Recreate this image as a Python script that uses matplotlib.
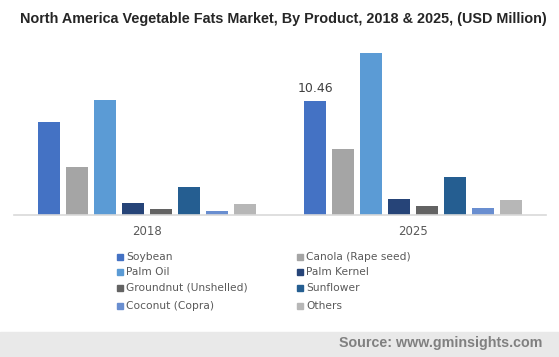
import matplotlib.pyplot as plt
from matplotlib.patches import Rectangle
import numpy as np

years = ["2018", "2025"]
products = ["Soybean", "Canola (Rape seed)", "Palm Oil", "Palm Kernel",
            "Groundnut (Unshelled)", "Sunflower", "Coconut (Copra)", "Others"]
values_2018 = [8.54, 4.41, 10.56, 1.10, 0.55, 2.57, 0.37, 1.01]
values_2025 = [10.46, 6.06, 14.86, 1.47, 0.83, 3.49, 0.64, 1.38]
colors = ["#4472C4", "#A5A5A5", "#5B9BD5", "#264478",
          "#636363", "#255E91", "#698ED0", "#B7B7B7"]

W, H = 559, 357
fig = plt.figure(figsize=(W / 100, H / 100), dpi=100)
ax = fig.add_axes([14 / W, (H - 215) / H, 532 / W, 175 / H])

x = np.arange(len(years))
step = 28 / 266
width = 22 / 266
for i, name in enumerate(products):
    offs = (i - 3.5) * step
    ax.bar(x + offs, [values_2018[i], values_2025[i]], width=width,
           color=colors[i], label=name)

# label only the 2025 soybean bar, as in the original
ax.text(x[1] - 3.5 * step, values_2025[0] + 0.55, f"{values_2025[0]:.2f}",
        ha="center", va="bottom", fontsize=9, color="#404040")

ax.set_xlim(-0.5, 1.5)
ax.set_ylim(0, 16.06)
ax.set_xticks(x)
ax.set_xticklabels(years, fontsize=8.5, color="#595959")
ax.tick_params(axis="x", length=0, pad=7)
ax.set_yticks([])
for s in ["top", "right", "left"]:
    ax.spines[s].set_visible(False)
ax.spines["bottom"].set_color("#d9d9d9")
ax.spines["bottom"].set_linewidth(1.2)

fig.text(283 / W, 1 - 19 / H, "North America Vegetable Fats Market, By Product, 2018 & 2025, (USD Million)",
         ha="center", va="center", fontsize=10.35, fontweight="bold",
         family="Liberation Sans", color="#262626")

# legend, two columns
col_x = [117, 297]
row_y = [257, 272, 288, 306]
for i, name in enumerate(products):
    cx = col_x[i % 2]
    cy = row_y[i // 2]
    fig.patches.append(Rectangle((cx / W, (H - cy - 3) / H), 6 / W, 6 / H,
                                 transform=fig.transFigure, color=colors[i]))
    fig.text((cx + 9) / W, (H - cy) / H, name, ha="left", va="center",
             fontsize=7.7, color="#595959")

# source band
fig.patches.append(Rectangle((0, 0), 1, 25 / H, transform=fig.transFigure,
                             color="#e9e9e9", zorder=0))
fig.text(542 / W, 14 / H, "Source: www.gminsights.com", ha="right", va="center",
         fontsize=10.3, fontweight="bold", family="Liberation Sans", color="#808080")

fig.savefig("out.png", dpi=100)
